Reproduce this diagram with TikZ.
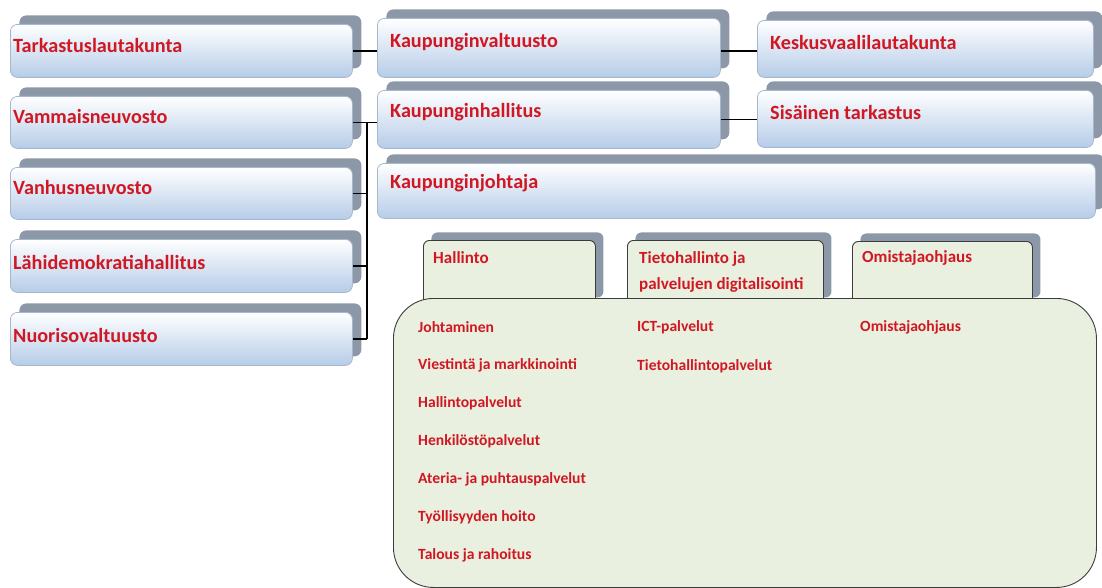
\documentclass[tikz,border=0pt]{standalone}
\usepackage{fontspec}
\setmainfont{Carlito}
\usetikzlibrary{shadows}

\definecolor{txtred}{RGB}{208,24,36}
\definecolor{boxblue}{RGB}{182,204,232}
\definecolor{boxline}{RGB}{165,183,205}
\definecolor{boxshade}{RGB}{140,152,168}
\definecolor{tabfill}{RGB}{234,240,223}
\definecolor{tabline}{RGB}{60,60,60}

\tikzset{
  orgbox/.style={draw=boxline, line width=0.8pt, rounded corners=7pt,
    top color=white, bottom color=boxblue, anchor=north west, inner sep=0pt,
    general shadow={fill=boxshade, shadow xshift=9pt, shadow yshift=9pt}},
  orglbl/.style={anchor=west, inner sep=0pt, text=txtred,
    font=\fontsize{20.2}{24}\selectfont\bfseries},
  tabbox/.style={draw=tabline, line width=0.9pt, rounded corners=6pt,
    fill=tabfill, anchor=north west, inner sep=0pt,
    general shadow={fill=boxshade, shadow xshift=8pt, shadow yshift=8pt}},
  tablbl/.style={inner sep=0pt, text=txtred, align=left,
    font=\fontsize{17}{26}\selectfont\bfseries},
  itemlbl/.style={anchor=west, inner sep=0pt, text=txtred,
    font=\fontsize{15.6}{18}\selectfont\bfseries},
  conn/.style={draw=black, line width=1.6pt}
}

\begin{document}
\begin{tikzpicture}[x=1pt,y=-1pt]
\useasboundingbox (0,0) rectangle (1102,588);

% vasen sarake
\node[orgbox, minimum width=342pt, minimum height=53pt] (tark) at (10,24) {};
\node[orgbox, minimum width=342pt, minimum height=52pt] (vamm) at (10,96) {};
\node[orgbox, minimum width=342pt, minimum height=52pt] (vanh) at (10,167) {};
\node[orgbox, minimum width=342pt, minimum height=53pt] (lahi) at (10,239) {};
\node[orgbox, minimum width=342pt, minimum height=53pt] (nuor) at (10,312) {};
\node[orglbl] (tarkT) at ([shift={(3pt,5pt)}]tark.west) {Tarkastuslautakunta};
\node[orglbl] (vammT) at ([shift={(3pt,6pt)}]vamm.west) {Vammaisneuvosto};
\node[orglbl] (vanhT) at ([shift={(3pt,6pt)}]vanh.west) {Vanhusneuvosto};
\node[orglbl] (lahiT) at ([shift={(3pt,3pt)}]lahi.west) {Lähidemokratiahallitus};
\node[orglbl] (nuorT) at ([shift={(3pt,3pt)}]nuor.west) {Nuorisovaltuusto};

% keskimmainen ja oikea sarake
\node[orgbox, minimum width=343pt, minimum height=59pt] (valt) at (377,18) {};
\node[orgbox, minimum width=343pt, minimum height=58pt] (hall) at (377,90) {};
\node[orgbox, minimum width=718pt, minimum height=55pt] (joht) at (377,163) {};
\node[orgbox, minimum width=336pt, minimum height=57pt] (kesk) at (757,20) {};
\node[orgbox, minimum width=336pt, minimum height=57pt] (sisa) at (757,90) {};
\node[orglbl] (valtT) at ([shift={(13pt,5.5pt)}]valt.west) {Kaupunginvaltuusto};
\node[orglbl] (hallT) at ([shift={(13pt,7pt)}]hall.west) {Kaupunginhallitus};
\node[orglbl] (johtT) at ([shift={(13pt,7.5pt)}]joht.west) {Kaupunginjohtaja};
\node[orglbl] (keskT) at ([shift={(13pt,6.5pt)}]kesk.west) {Keskusvaalilautakunta};
\node[orglbl] (sisaT) at ([shift={(13pt,6.5pt)}]sisa.west) {Sisäinen tarkastus};

% yhdysviivat
\coordinate (bus) at (367,0);
\draw[conn] (tark.east) -- (tark.east -| valt.west);
\draw[conn] (tark.east -| valt.east) -- (tark.east -| kesk.west);
\draw[conn] (hall.east) -- (hall.east -| sisa.west);
\draw[conn] (vamm.east) -- (vamm.east -| hall.west);
\draw[conn] (vamm.east -| bus) -- (nuor.east -| bus);
\foreach \b in {vanh,lahi,nuor}
  \draw[conn] (\b.east) -- (\b.east -| bus);

% konsernihallinto
\node[tabbox, minimum width=172pt, minimum height=65pt] (hal) at (423,240) {};
\node[tabbox, minimum width=196pt, minimum height=65pt] (tie) at (627,240) {};
\node[tabbox, minimum width=180pt, minimum height=64pt] (omi) at (852,241) {};
\node[draw=tabline, line width=0.9pt, fill=tabfill, rounded corners=40pt,
  anchor=north west, minimum width=703pt, minimum height=289pt] (big) at (393,298) {};
\node[tablbl, anchor=west] (halT) at ([shift={(10pt,-18pt)}]hal.north west) {Hallinto};
\node[tablbl, anchor=north west] (tieT) at ([shift={(12pt,-11pt)}]tie.north west)
  {Tietohallinto ja\\palvelujen digitalisointi};
\node[tablbl, anchor=west] (omiT) at ([shift={(10pt,-17pt)}]omi.north west) {Omistajaohjaus};

\foreach \t [count=\i] in {Johtaminen, Viestintä ja markkinointi, Hallintopalvelut,
    Henkilöstöpalvelut, Ateria- ja puhtauspalvelut, Työllisyyden hoito, Talous ja rahoitus}
  \node[itemlbl] (item\i) at (418,{289+38*\i}) {\t};
\node[itemlbl] (ict) at (637,327) {ICT-palvelut};
\node[itemlbl] (tiep) at (637,366) {Tietohallintopalvelut};
\node[itemlbl] (omis) at (860,327) {Omistajaohjaus};
\end{tikzpicture}
\end{document}
